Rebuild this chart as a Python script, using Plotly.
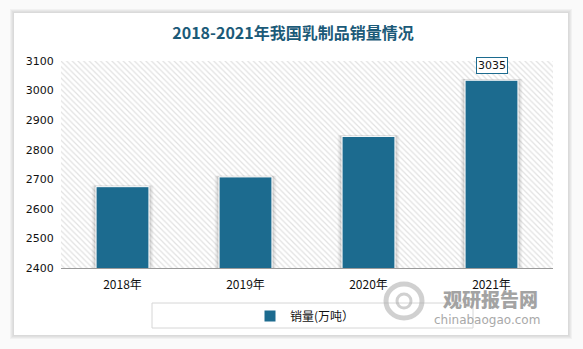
import plotly.graph_objects as go

# Dairy product sales volume, 10k tonnes
years = ["2018年", "2019年", "2020年", "2021年"]
sales = [2675, 2708, 2845, 3035]
y_ticks = [2400, 2500, 2600, 2700, 2800, 2900, 3000, 3100]

W, H = 583, 349
ML, MR, MT, MB = 61, 30, 61, 81
PW, PH = W - ML - MR, H - MT - MB

BAR = "#1c6b8f"
TITLE = "#1b5a78"
CJK = "Noto Sans CJK SC"


def px_x(px):
    return (px - ML) / PW


def px_y(py):
    return 1 - (py - MT) / PH


fig = go.Figure()

# hatched plot background
fig.add_trace(go.Bar(
    x=years, y=[y_ticks[-1]] * len(years), width=1,
    marker=dict(color="white", line=dict(width=0),
                pattern=dict(shape="\\", fgcolor="#c4c4c4", bgcolor="white",
                             size=4, solidity=0.3)),
    showlegend=False, hoverinfo="skip",
))

# soft shadow behind the bars
for w, a in [(0.50, 0.05), (0.47, 0.10)]:
    fig.add_trace(go.Bar(
        x=years, y=[v + 4 for v in sales], width=w,
        marker=dict(color=f"rgba(0,0,0,{a})", line=dict(width=0)),
        showlegend=False, hoverinfo="skip",
    ))

fig.add_trace(go.Bar(
    x=years, y=sales, width=0.43, name="销量(万吨）",
    marker=dict(color=BAR, line=dict(color="white", width=1)),
))

shapes = []
# card shadow
for i, c in enumerate(["#f1f1f1", "#e8e8e8", "#e0e0e0", "#dadada"]):
    d = 4 - i
    shapes.append(dict(type="rect", xref="paper", yref="paper", layer="below",
                       x0=px_x(14 - d), x1=px_x(568 + d),
                       y0=px_y(335 + d), y1=px_y(13 - d),
                       fillcolor=c, line=dict(width=0)))
# white card
shapes.append(dict(type="rect", xref="paper", yref="paper", layer="below",
                   x0=px_x(14), x1=px_x(568), y0=px_y(335), y1=px_y(13),
                   fillcolor="white", line=dict(width=0)))
# legend frame
shapes.append(dict(type="rect", xref="paper", yref="paper",
                   x0=px_x(152), x1=px_x(473), y0=px_y(328), y1=px_y(303),
                   fillcolor="rgba(0,0,0,0)", line=dict(color="#d6d6d6", width=1)))
# watermark emblem
shapes.append(dict(type="circle", xref="paper", yref="paper",
                   x0=px_x(386), x1=px_x(422), y0=px_y(318), y1=px_y(284),
                   fillcolor="rgba(0,0,0,0)", line=dict(color="rgba(170,170,170,0.55)", width=5)))
shapes.append(dict(type="circle", xref="paper", yref="paper",
                   x0=px_x(397), x1=px_x(411), y0=px_y(308), y1=px_y(294),
                   fillcolor="rgba(0,0,0,0)", line=dict(color="rgba(170,170,170,0.55)", width=3)))

annotations = [
    dict(x=years[-1], y=sales[-1], xref="x", yref="y", text=str(sales[-1]),
         showarrow=False, yanchor="bottom", yshift=6,
         font=dict(family="DejaVu Sans", size=11, color="#111"),
         bgcolor="white", bordercolor=BAR, borderwidth=1, borderpad=1),
    dict(x=px_x(490), y=px_y(298), xref="paper", yref="paper", text="观研报告网",
         showarrow=False, font=dict(family=CJK, size=19, color="#9a9a9a", weight=900),
         xanchor="center", yanchor="middle", opacity=0.9),
    dict(x=px_x(487), y=px_y(320), xref="paper", yref="paper", text="chinabaogao.com",
         showarrow=False, font=dict(family="DejaVu Sans", size=12, color="#a0a0a0"),
         xanchor="center", yanchor="middle", opacity=0.9),
]

fig.update_layout(
    width=W, height=H,
    margin=dict(l=ML, r=MR, t=MT, b=MB),
    paper_bgcolor="#fafafa", plot_bgcolor="rgba(0,0,0,0)",
    barmode="overlay",
    title=dict(text="<b>2018-2021年我国乳制品销量情况</b>",
               x=293 / W, xanchor="center",
               y=1 - 33 / H, yanchor="middle",
               font=dict(family=CJK, size=16, color=TITLE)),
    xaxis=dict(showgrid=False, showline=True, linecolor="#9a9a9a", linewidth=1,
               ticks="outside", ticklen=6, tickcolor="rgba(0,0,0,0)",
               tickfont=dict(family=CJK, size=12, color="#111"),
               range=[-0.5, 3.5]),
    yaxis=dict(range=[y_ticks[0], y_ticks[-1]], tickvals=y_ticks, showgrid=False,
               zeroline=False, showline=False,
               ticks="outside", ticklen=4, tickcolor="rgba(0,0,0,0)",
               tickfont=dict(family="DejaVu Sans", size=11, color="#111")),
    legend=dict(orientation="h", x=px_x(305), xanchor="center",
                y=px_y(316), yanchor="middle", bgcolor="rgba(0,0,0,0)",
                font=dict(family=CJK, size=12, color="#111")),
    shapes=shapes,
    annotations=annotations,
    showlegend=True,
)

fig.write_html("out.html")
